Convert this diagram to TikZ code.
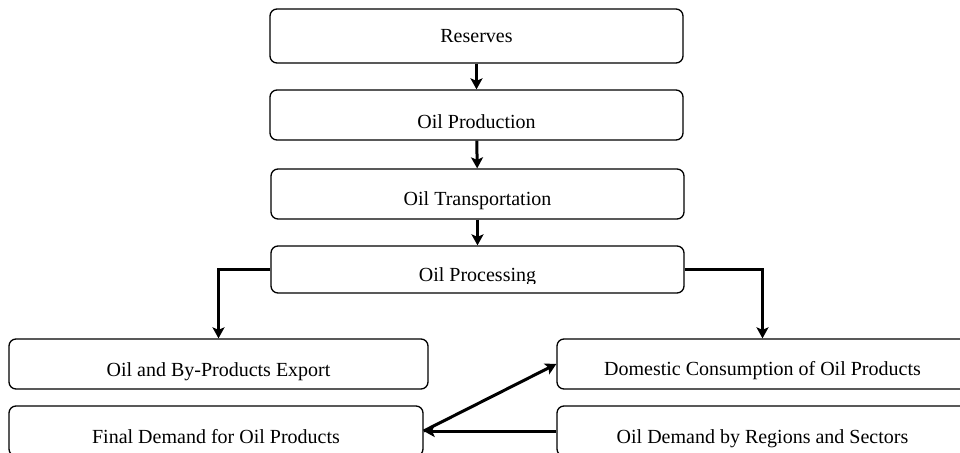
\documentclass[tikz,border=0pt]{standalone}
\usepackage{fontspec}
\setmainfont{Liberation Serif}
\usetikzlibrary{arrows.meta}
\begin{document}
\begin{tikzpicture}[x=1pt,y=-1pt,
  box/.style={draw, rounded corners=7pt, line width=1.3pt, inner sep=0pt,
    font=\fontsize{20}{24}\selectfont, text depth=0pt, text height=22pt,
    minimum height=50pt},
  txt/.style={inner sep=0pt, font=\fontsize{20}{24}\selectfont, text depth=0pt, text height=24pt},
  flow/.style={line width=3pt, -{Stealth[length=11pt,width=12pt,inset=2.5pt]}}]
\useasboundingbox (0,0) rectangle (960,452);
\clip (0,0) rectangle (960,452);

\node[box, minimum width=413pt, minimum height=54pt, text height=14pt] (res) at (476.5,36) {Reserves};
\node[box, minimum width=413pt, text height=26pt] (prod) at (476.5,115) {Oil Production};
\node[box, minimum width=413pt] (trans) at (477.5,194) {Oil Transportation};
\node[box, minimum width=413pt, minimum height=47pt] (proc) at (477.5,269.5) {};
\begin{scope}
  \clip (271,240) rectangle (684,283);
  \node[txt] (proclabel) at (477.5,269.5) {Oil Processing};
\end{scope}
\node[box, minimum width=419pt, text height=24pt] (exp) at (218.5,364) {Oil and By-Products Export};
\node[box, minimum width=414pt, text height=24pt] (fin) at (216,431) {Final Demand for Oil Products};
\node[box, minimum width=411pt] (dom) at (762.5,364) {Domestic Consumption of Oil Products};
\node[box, minimum width=411pt, text height=25pt] (dem) at (762.5,431) {Oil Demand by Regions and Sectors};

\draw[flow] (res) -- (prod);
\draw[flow] (prod) -- (trans);
\draw[flow] (trans) -- (proc);
\draw[flow] (proc.west) -| (exp.north);
\draw[flow] (proc.east) -| (dom.north);
\draw[flow] (fin.east) -- (dom.west);
\draw[flow] (dem.west) -- (fin.east);
\end{tikzpicture}
\end{document}
